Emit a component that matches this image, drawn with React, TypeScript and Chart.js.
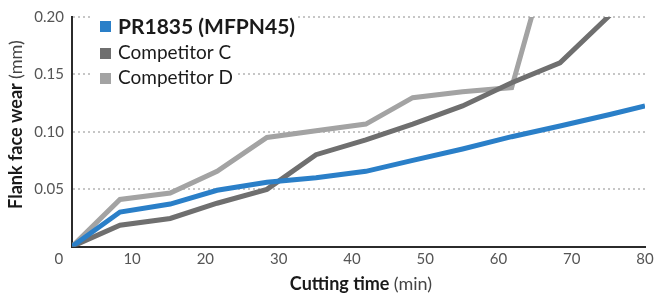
import React, { useEffect, useRef } from 'react';
import { Chart, registerables } from 'chart.js';

Chart.register(...registerables);

// ---- data ----
const cuttingTime = [1.8, 8.35, 15.2, 21.6, 28.4, 35.1, 41.9, 48.3, 55.1, 61.8, 68.4, 75.2, 80];
const pr1835Wear = [0, 0.030, 0.037, 0.049, 0.056, 0.060, 0.0655, 0.075, 0.085, 0.0957, 0.105, 0.115, 0.1225];
const competitorCWear = [0, 0.0186, 0.0244, 0.0377, 0.0498, 0.080, 0.093, 0.1067, 0.1225, 0.1427, 0.160, 0.2015];
const competitorDWear = [0, 0.041, 0.0466, 0.0656, 0.095, 0.1009, 0.1067, 0.1297, 0.1349, 0.1385, 0.288];

const seriesNames = ['PR1835 (MFPN45)', 'Competitor C', 'Competitor D'];
const seriesColors = ['#2a7fc8', '#6f6f6f', '#a3a3a3'];

const xTickValues = [0, 10, 20, 30, 40, 50, 60, 70, 80];
const yTickValues = [0.05, 0.1, 0.15, 0.2];

const xTitleMain = 'Cutting time';
const xTitleUnit = '(min)';
const yTitleMain = 'Flank face wear';
const yTitleUnit = '(mm)';

const FONT = 'Lato, "Open Sans", sans-serif';

const toPoints = (ys: number[]) => ys.map((y, i) => ({ x: cuttingTime[i], y }));

const overlayPlugin = {
  id: 'overlay',
  afterDraw(chart: any) {
    const ctx = chart.ctx as CanvasRenderingContext2D;
    const area = chart.chartArea;
    ctx.save();

    // legend
    const sqX = area.left + 28;
    const baselines = [16.8, 42, 67.2];
    const squareTops = [4, 31, 56];
    seriesNames.forEach((name, i) => {
      const bold = i === 0;
      ctx.font = bold ? `bold 21px ${FONT}` : `19px ${FONT}`;
      const w = ctx.measureText(name).width;
      const base = area.top + baselines[i];
      ctx.fillStyle = '#ffffff';
      ctx.fillRect(sqX - 8, base - 18, 11 + 7 + w + 10, 24);
      ctx.fillStyle = seriesColors[i];
      ctx.fillRect(sqX, area.top + squareTops[i], 11, 11);
      ctx.fillStyle = '#1a1a1a';
      ctx.textBaseline = 'alphabetic';
      ctx.textAlign = 'left';
      ctx.fillText(name, sqX + 18, base);
    });

    // x title
    const drawTitle = (main: string, unit: string) => {
      ctx.font = `bold 18px ${FONT}`;
      const wMain = ctx.measureText(main + ' ').width;
      ctx.font = `18px ${FONT}`;
      const wUnit = ctx.measureText(unit).width;
      const total = wMain + wUnit;
      ctx.textAlign = 'left';
      ctx.textBaseline = 'alphabetic';
      ctx.font = `bold 18px ${FONT}`;
      ctx.fillStyle = '#1a1a1a';
      ctx.fillText(main, -total / 2, 0);
      ctx.font = `18px ${FONT}`;
      ctx.fillStyle = '#444444';
      ctx.fillText(unit, -total / 2 + wMain, 0);
    };

    ctx.save();
    ctx.translate(361, 290);
    drawTitle(xTitleMain, xTitleUnit);
    ctx.restore();

    ctx.save();
    ctx.translate(22, 124.5);
    ctx.rotate(-Math.PI / 2);
    drawTitle(yTitleMain, yTitleUnit);
    ctx.restore();

    ctx.restore();
  },
};

export default function App() {
  const canvasRef = useRef<HTMLCanvasElement | null>(null);

  useEffect(() => {
    const canvas = canvasRef.current;
    if (!canvas) return;
    const values = [pr1835Wear, competitorCWear, competitorDWear];
    const chart = new Chart(canvas, {
      type: 'line',
      data: {
        datasets: values.map((ys, i) => ({
          label: seriesNames[i],
          data: toPoints(ys),
          borderColor: seriesColors[i],
          backgroundColor: seriesColors[i],
          borderWidth: 5,
          pointRadius: 0,
          tension: 0,
          fill: false,
          clip: 0,
          borderJoinStyle: 'miter',
        })),
      },
      options: {
        responsive: false,
        animation: false,
        devicePixelRatio: 1,
        layout: { padding: { left: 0, top: 15, right: 27, bottom: 0 } },
        plugins: { legend: { display: false }, tooltip: { enabled: false } },
        scales: {
          x: {
            type: 'linear',
            min: 1.8,
            max: 80,
            afterBuildTicks: (scale: any) => {
              scale.ticks = xTickValues.map((v) => ({ value: v }));
            },
            afterFit: (scale: any) => {
              scale.height = 47.5;
            },
            grid: { display: false, drawTicks: false },
            border: { display: true, color: '#2b2b2b', width: 2 },
            ticks: {
              autoSkip: false,
              maxRotation: 0,
              padding: 4,
              color: '#555555',
              font: { family: FONT, size: 15 },
              callback: (v: any) => String(v),
            },
          },
          y: {
            type: 'linear',
            min: 0,
            max: 0.2,
            afterBuildTicks: (scale: any) => {
              scale.ticks = yTickValues.map((v) => ({ value: v }));
            },
            afterFit: (scale: any) => {
              scale.width = 72;
            },
            grid: { display: true, drawTicks: false, color: '#c6c6c6', lineWidth: 2 },
            border: { display: true, color: '#2b2b2b', width: 2, dash: [2, 3] },
            ticks: {
              padding: 8,
              color: '#555555',
              font: { family: FONT, size: 15 },
              callback: (v: any) => Number(v).toFixed(2),
            },
          },
        },
      },
      plugins: [overlayPlugin],
    } as any);
    return () => chart.destroy();
  }, []);

  return (
    <div style={{ position: 'fixed', left: 0, top: 0, width: 654, height: 294, overflow: 'hidden', background: '#fff' }}>
      <canvas ref={canvasRef} width={672} height={294} style={{ width: 672, height: 294, display: 'block' }} />
    </div>
  );
}
